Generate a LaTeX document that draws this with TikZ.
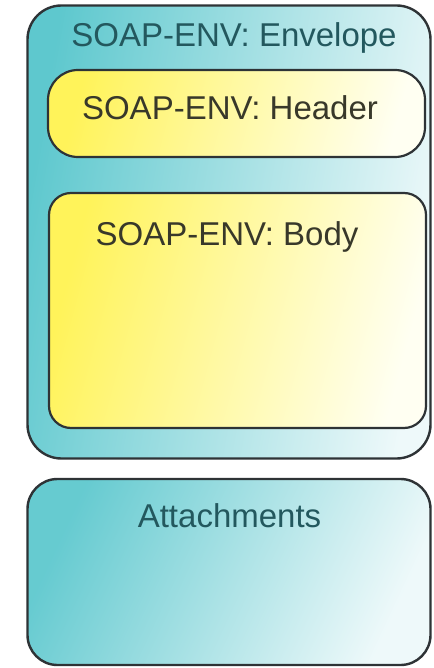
\documentclass[tikz,border=0pt]{standalone}
\usepackage{fontspec}
\setmainfont{Liberation Sans}
\definecolor{tealdeep}{HTML}{5EC8CE}
\definecolor{tealpale}{HTML}{EEF9FA}
\definecolor{yellowdeep}{HTML}{FFF35A}
\definecolor{yellowpale}{HTML}{FFFFF2}
\definecolor{edge}{HTML}{2E3336}
\definecolor{tealink}{HTML}{23585E}
\definecolor{oliveink}{HTML}{38382A}
\tikzset{
  box/.style={draw=edge, line width=2.4pt, inner sep=0pt},
  envbox/.style={box, rounded corners=34pt, left color=tealdeep, right color=tealpale, shading angle=80},
  attbox/.style={box, rounded corners=30pt, left color=tealdeep!95, right color=tealpale, shading angle=65},
  yelbox/.style={box, line width=2.2pt, left color=yellowdeep, right color=yellowpale, shading angle=75},
  lbl/.style={anchor=base, inner sep=0pt, font=\fontsize{33}{40}\selectfont}
}
\begin{document}
\begin{tikzpicture}[x=1pt, y=-1pt]
  \useasboundingbox (0,0) rectangle (433,668);
  % SOAP envelope with its header and body
  \node[envbox, minimum width=403pt, minimum height=453pt] (env) at (229,232) {};
  \node[yelbox, rounded corners=30pt, minimum width=377pt, minimum height=87pt] (hdr) at (236.5,113.5) {};
  \node[yelbox, rounded corners=22pt, minimum width=377pt, minimum height=235pt] (body) at (237.5,310.5) {};
  % attachments part
  \node[attbox, minimum width=403pt, minimum height=186pt] (att) at (229,572) {};
  % labels
  \node[lbl, text=tealink] (envtxt) at (234,47) {SOAP-ENV: Envelope};
  \node[lbl, text=oliveink] (hdrtxt) at (230,120) {SOAP-ENV: Header};
  \node[lbl, text=oliveink] (bodytxt) at (227,245) {SOAP-ENV: Body};
  \node[lbl, text=tealink] (atttxt) at (229.5,527) {Attachments};
\end{tikzpicture}
\end{document}
